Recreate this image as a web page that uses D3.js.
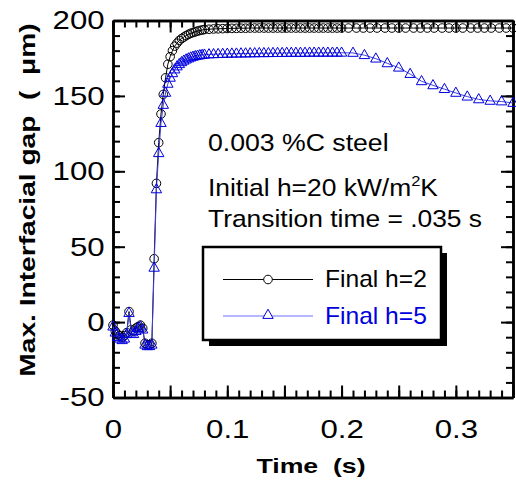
<!DOCTYPE html>
<html>
<head>
<meta charset="utf-8">
<script src="https://cdn.jsdelivr.net/npm/d3@7"></script>
<style>
  body { margin: 0; background: #fff; }
  text { font-family: "Liberation Sans", Arial, sans-serif; white-space: pre; }
</style>
</head>
<body>
<script>
// times (s) shared by both runs up to 0.2 s
let timeA = [
  0, 0.002, 0.004, 0.006, 0.008, 0.01, 0.012, 0.014, 0.016, 0.018,
  0.02, 0.022, 0.024, 0.026, 0.028, 0.03, 0.032, 0.034, 0.036, 0.038,
  0.04, 0.042, 0.044, 0.046, 0.048, 0.05, 0.052, 0.054, 0.056, 0.058,
  0.06, 0.062, 0.064, 0.066, 0.068, 0.07, 0.072, 0.074, 0.076, 0.078, 0.08,
  0.084, 0.088, 0.092, 0.096, 0.1, 0.104, 0.108, 0.112, 0.116, 0.12,
  0.124, 0.128, 0.132, 0.136, 0.14, 0.144, 0.148, 0.152, 0.156, 0.16,
  0.164, 0.168, 0.172, 0.176, 0.18, 0.184, 0.188, 0.192, 0.196, 0.2
];
// Final h=2 (black circles)
let gapH2 = [
  -2, -6, -8, -9, -10, -9, -7, 7, -5, -6,
  -4, -3, -2, -4, -14, -15, -15, -14, 42, 92,
  119, 138, 151, 162, 171, 176, 180, 183, 185, 186.8,
  188, 189, 190, 190.8, 191.5, 192, 192.5, 193, 193.4, 193.7, 194,
  194.2, 194.4, 194.5, 194.6, 194.7, 194.8, 194.8, 194.9, 194.9, 195,
  195, 195, 195, 195, 195, 195, 195, 195, 195, 195,
  195, 195, 195, 195, 195, 195, 195, 195, 195, 195
];
// Final h=5 (blue triangles)
let gapH5 = [
  -3, -7, -10, -11, -12, -11, -8, 6, -7, -8,
  -6, -4, -3, -5, -15, -16, -16, -15, 36, 88,
  112, 132, 144, 152, 158, 162, 165, 167.5, 169.5, 171,
  172.3, 173.3, 174.1, 174.8, 175.4, 175.9, 176.3, 176.6, 176.9, 177.1, 177.3,
  177.5, 177.6, 177.7, 177.8, 177.9, 178, 178, 178.1, 178.1, 178.2,
  178.2, 178.3, 178.3, 178.3, 178.4, 178.4, 178.4, 178.5, 178.5, 178.5,
  178.5, 178.5, 178.6, 178.6, 178.6, 178.6, 178.6, 178.6, 178.6, 178.6
];
// after 0.2 s the runs were written out less often
let timeH2Tail = [
  0.206, 0.213, 0.219, 0.225, 0.231, 0.238, 0.244, 0.25, 0.256, 0.263, 0.269, 0.275,
  0.281, 0.288, 0.294, 0.3, 0.306, 0.313, 0.319, 0.325, 0.331, 0.338, 0.344, 0.35
];
let gapH2Tail = [
  195, 195, 195, 195, 195, 195, 195, 195, 195, 195, 195, 195,
  195, 195, 195, 195, 195, 195, 195, 195, 195, 195, 195, 195
];
let timeH5Tail = [0.21, 0.22, 0.23, 0.24, 0.25, 0.26, 0.27, 0.28, 0.29, 0.3, 0.31, 0.32, 0.33, 0.34, 0.35];
let gapH5Tail = [178.5, 177, 174.7, 171.6, 168.7, 164.5, 159.7, 157, 154.5, 152, 149.5, 147.7, 146.7, 146.3, 145.3];

let xMajor = [0, 0.05, 0.1, 0.15, 0.2, 0.25, 0.3, 0.35];
let xLabels = [0, 0.1, 0.2, 0.3];
let yMajor = [-50, 0, 50, 100, 150, 200];

let width = 516,
  height = 482;
let padL = 113, padR = 513, padT = 20.5, padB = 397.5;

let svg = d3.select("body").append("svg").attr("width", width).attr("height", height);

let xScale = d3.scaleLinear().domain([0, 0.35]).range([padL, padR]);
let yScale = d3.scaleLinear().domain([-50, 200]).range([padB, padT]);

let xMinor = d3.range(0, 0.3501, 0.01);
let yMinor = d3.range(-50, 200.1, 10);

// ---- axes (ticks pointing inward on all four sides)
let drawAxis = (axis, tx, ty, cls) => {
  let g = svg.append("g").attr("class", cls).attr("transform", "translate(" + tx + "," + ty + ")").call(axis);
  g.selectAll("line").attr("stroke", "#000").attr("stroke-width", 2);
  g.select(".domain").attr("stroke", "#000").attr("stroke-width", 2.5);
  return g;
};

drawAxis(d3.axisBottom(xScale).tickValues(xMinor).tickSize(-7).tickSizeOuter(0).tickFormat(""), 0, padB, "xminor");
drawAxis(d3.axisTop(xScale).tickValues(xMinor).tickSize(-7).tickSizeOuter(0).tickFormat(""), 0, padT, "xminor2");
drawAxis(d3.axisLeft(yScale).tickValues(yMinor).tickSize(-7).tickSizeOuter(0).tickFormat(""), padL, 0, "yminor");
drawAxis(d3.axisRight(yScale).tickValues(yMinor).tickSize(-7).tickSizeOuter(0).tickFormat(""), padR, 0, "yminor2");

let xAx = drawAxis(
  d3.axisBottom(xScale).tickValues(xMajor).tickSize(-12).tickSizeOuter(0).tickPadding(22)
    .tickFormat((d) => (xLabels.some((v) => Math.abs(v - d) < 1e-9) ? String(+d.toFixed(2)) : "")),
  0, padB, "x-axis");
drawAxis(d3.axisTop(xScale).tickValues(xMajor).tickSize(-12).tickSizeOuter(0).tickFormat(""), 0, padT, "x-top");
let yAx = drawAxis(
  d3.axisLeft(yScale).tickValues(yMajor).tickSize(-12).tickSizeOuter(0).tickPadding(7).tickFormat((d) => String(d)),
  padL, 0, "y-axis");
drawAxis(d3.axisRight(yScale).tickValues(yMajor).tickSize(-12).tickSizeOuter(0).tickFormat(""), padR, 0, "y-right");

xAx.selectAll("text").attr("font-size", 26).attr("fill", "#000")
  .attr("font-family", '"Liberation Sans", Arial, sans-serif')
  .attr("transform", "scale(1.2,1)");
yAx.selectAll("text").attr("font-size", 26).attr("fill", "#000")
  .attr("font-family", '"Liberation Sans", Arial, sans-serif')
  .attr("transform", "scale(1.2,1)");

// axis titles
svg.append("text")
  .attr("transform", "translate(311,473) scale(1.27,1)")
  .attr("text-anchor", "middle").attr("font-size", 21).attr("font-weight", "bold")
  .text("Time  (s)");
svg.append("text")
  .attr("transform", "translate(35,200) rotate(-90) scale(1.28,1)")
  .attr("text-anchor", "middle").attr("font-size", 22).attr("font-weight", "bold")
  .text("Max. Interfacial gap  (  \u03bcm)");

// ---- data
let h2 = timeA.map((t, i) => ({ t: t, v: gapH2[i] }));
let h2Tail = timeH2Tail.map((t, i) => ({ t: t, v: gapH2Tail[i] }));
let h5 = timeA.map((t, i) => ({ t: t, v: gapH5[i] }));
let h5Tail = timeH5Tail.map((t, i) => ({ t: t, v: gapH5Tail[i] }));
let h2All = h2.concat(h2Tail);
let h5All = h5.concat(h5Tail);

let line = d3.line().x((d) => xScale(d.t)).y((d) => yScale(d.v));
let triPath = "M0,-5.8L5.2,3.4L-5.2,3.4Z";

svg.append("path").datum(h2All).attr("d", line).attr("fill", "none").attr("stroke", "#000").attr("stroke-width", 1);
svg.append("g").selectAll("circle").data(h2All).enter().append("circle")
  .attr("cx", (d) => xScale(d.t)).attr("cy", (d) => yScale(d.v)).attr("r", 4.3)
  .attr("fill", "none").attr("stroke", "#000").attr("stroke-width", 1);

svg.append("path").datum(h5All).attr("d", line).attr("fill", "none").attr("stroke", "#4040e0").attr("stroke-width", 1);
svg.append("g").selectAll("path").data(h5All).enter().append("path")
  .attr("d", triPath)
  .attr("transform", (d) => "translate(" + xScale(d.t) + "," + yScale(d.v) + ")")
  .attr("fill", "none").attr("stroke", "#0000e0").attr("stroke-width", 1);

// ---- annotation
let note = svg.append("g").attr("font-size", 24).attr("fill", "#000");
note.append("text").attr("transform", "translate(208,150.5) scale(1.11,1)").text("0.003 %C steel");
let t2 = note.append("text").attr("transform", "translate(208,196) scale(1.1,1)");
t2.append("tspan").text("Initial h=20 kW/m");
t2.append("tspan").attr("font-size", 15).attr("dy", -10).text("2");
t2.append("tspan").attr("dy", 10).text("K");
note.append("text").attr("transform", "translate(208,227) scale(1.1,1)").text("Transition time = .035 s");

// ---- legend
let lg = svg.append("g");
lg.append("rect").attr("x", 209).attr("y", 253).attr("width", 238).attr("height", 93).attr("fill", "#000");
lg.append("rect").attr("x", 203).attr("y", 247).attr("width", 238).attr("height", 93)
  .attr("fill", "#fff").attr("stroke", "#000").attr("stroke-width", 2.5);

lg.append("line").attr("x1", 223).attr("x2", 313).attr("y1", 279.5).attr("y2", 279.5).attr("stroke", "#000").attr("stroke-width", 1);
lg.append("circle").attr("cx", 268).attr("cy", 279.5).attr("r", 4.3).attr("fill", "#fff").attr("stroke", "#000");
lg.append("text").attr("transform", "translate(325,287) scale(1.07,1)").attr("font-size", 23).text("Final h=2");

lg.append("line").attr("x1", 223).attr("x2", 313).attr("y1", 316).attr("y2", 316).attr("stroke", "#7070ff").attr("stroke-width", 1);
lg.append("path").attr("d", triPath).attr("transform", "translate(268,315)").attr("fill", "#fff").attr("stroke", "#0000e0");
lg.append("text").attr("transform", "translate(325,323.5) scale(1.07,1)").attr("font-size", 23).attr("fill", "#0000dd").text("Final h=5");
</script>
</body>
</html>
